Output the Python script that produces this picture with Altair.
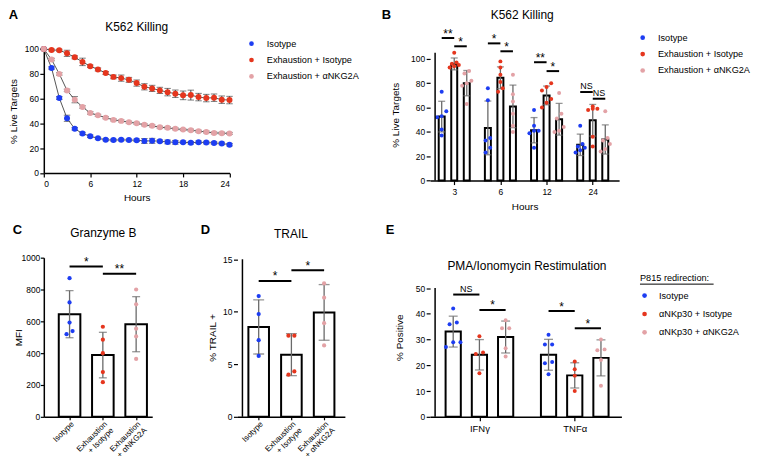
import json
import altair as alt
import pandas as pd

FONT = "Liberation Sans"

COND_AB = ["Isotype", "Exhaustion + Isotype", "Exhaustion + αNKG2A"]
COND_E = ["Isotype", "αNKp30 + Isotype", "αNKp30 + αNKG2A"]
COLORS = ["#1d3df2", "#e5361e", "#e3a2a6"]

# ---------------- Panel A (time course) ----------------
A_HOURS = list(range(25))
A_ISO = [100, 84.7, 60.5, 44.1, 35.6, 31.8, 29.6, 28.0, 26.7, 26.5, 26.7, 26.5, 26.4,
         25.8, 25.9, 25.6, 25.0, 24.7, 24.8, 24.3, 24.8, 24.5, 24.2, 23.8, 22.8]
A_EXH = [100, 99.2, 99.0, 96.5, 93.3, 89.6, 86.1, 83.5, 80.7, 77.5, 76.5, 75.1, 72.5,
         69.5, 68.2, 66.6, 65.2, 63.9, 62.6, 62.8, 61.2, 60.4, 60.7, 59.1, 58.8]
A_NKG = [100, 91.5, 79.9, 66.6, 59.1, 53.2, 48.4, 46.5, 44.6, 42.8, 42.0, 40.9, 40.1,
         38.8, 38.0, 36.9, 36.4, 35.6, 35.0, 34.5, 33.7, 33.1, 32.3, 32.1, 31.9]
A_ISO_SEM = [0.5, 1.0, 1.2, 2.5, 1.0, 1.0, 1.0, 0.8, 0.8, 0.8, 0.8, 0.8, 1.0,
             2.0, 2.0, 1.0, 1.5, 1.5, 1.0, 1.0, 1.0, 1.0, 1.0, 1.0, 1.0]
A_EXH_SEM = [0.5, 0.8, 0.8, 2.5, 1.2, 3.0, 1.0, 1.2, 1.2, 1.5, 2.5, 2.0, 2.5,
             2.5, 2.5, 2.5, 3.0, 3.0, 3.5, 4.0, 3.0, 3.0, 3.0, 3.0, 3.0]
A_NKG_SEM = [0.5, 1.0, 1.0, 1.0, 2.5, 1.0, 1.0, 0.8, 0.8, 0.8, 0.8, 0.8, 0.8,
             0.8, 0.8, 0.8, 0.8, 0.8, 0.8, 0.8, 0.8, 0.8, 0.8, 0.8, 0.8]

# ---------------- Panel B (grouped bars) ----------------
B_HOURS = ["3", "6", "12", "24"]
B_ISO_MEAN = [52.6, 43.3, 41.4, 29.4]
B_EXH_MEAN = [95.9, 84.5, 70.0, 49.6]
B_NKG_MEAN = [80.1, 61.0, 50.4, 33.8]
B_ISO_SD = [12.6, 22.1, 10.4, 8.8]
B_EXH_SD = [4.9, 9.0, 7.7, 13.0]
B_NKG_SD = [10.4, 17.5, 13.0, 12.0]
B_ISO_PTS = [[73, 57, 53, 52, 42, 37], [76, 66, 35, 33, 27, 23],
             [58, 45, 41, 41, 39, 27], [45, 30, 28, 27, 25, 23]]
B_EXH_PTS = [[105, 97, 96, 95, 94, 93], [98, 93, 87, 81, 76, 73],
             [80, 77, 74, 67, 64, 60], [61, 59, 59, 58, 36, 28]]
B_NKG_PTS = [[90, 88, 82, 80, 78, 63], [87, 71, 65, 55, 45, 40],
             [72, 55, 51, 44, 41, 40], [57, 35, 33, 30, 26, 24]]
B_SIG_Y = [[117.2, 110.4], [112.8, 106.3], [97.3, 90.0], [72.8, 67.3]]
B_SIG_LABEL = [["**", "*"], ["*", "*"], ["**", "*"], ["NS", "NS"]]

# ---------------- Panel C (Granzyme B) ----------------
CD_LABELS = ["Isotype", "Exhaustion\n+ Isotype", "Exhaustion\n+ αNKG2A"]
C_MEAN = [645, 388, 582]
C_SD = [148, 143, 173]
C_PTS = [[871, 719, 592, 539, 519], [566, 485, 400, 281, 218], [800, 707, 554, 505, 364]]
C_SIG_Y = [945, 899]
C_SIG_LABEL = ["*", "**"]

# ---------------- Panel D (TRAIL) ----------------
D_MEAN = [8.56, 5.92, 9.94]
D_SD = [2.58, 2.0, 2.65]
D_PTS = [[11.5, 9.78, 7.3, 5.8], [7.73, 7.73, 4.32, 4.01], [12.7, 11.34, 8.92, 6.8]]
D_SIG_Y = [12.94, 13.95]
D_SIG_LABEL = ["*", "*"]

# ---------------- Panel E (restimulation) ----------------
E_CYTO = ["IFNγ", "TNFα"]
E_ISO_MEAN = [33.1, 24.1]
E_EXH_MEAN = [24.1, 16.1]
E_NKG_MEAN = [31.0, 22.9]
E_ISO_SD = [6.0, 6.0]
E_EXH_SD = [5.9, 4.9]
E_NKG_SD = [6.2, 7.0]
E_ISO_PTS = [[42.1, 36.6, 36.0, 29.0, 29.0, 27.1], [31.9, 28.1, 28.1, 21.3, 20.8, 16.5]]
E_EXH_PTS = [[31.3, 25.0, 24.4, 16.9], [21.5, 18.5, 16.0, 10.0]]
E_NKG_PTS = [[37.5, 34.4, 34.4, 26.6, 23.4], [30.0, 26.2, 25.9, 22.1, 12.1]]
E_SIG_Y = [[47.5, 41.5], [41.1, 34.4]]
E_SIG_LABEL = [["NS", "*"], ["*", "*"]]

ERR = "#6a6a6a"
LEG_FS = 9.2


def jitter_offsets(vals, tol, step, maxk=3):
    order = sorted(range(len(vals)), key=lambda i: vals[i])
    clusters = []
    for i in order:
        if clusters and len(clusters[-1]) < maxk and vals[i] - vals[clusters[-1][-1]] <= tol:
            clusters[-1].append(i)
        else:
            clusters.append([i])
    offs = [0.0] * len(vals)
    for c in clusters:
        k = len(c)
        for j, i in enumerate(c):
            offs[i] = (j - (k - 1) / 2) * step
    return offs


def text_layer(text, x, y, size, weight="normal", align="center", baseline="alphabetic"):
    return alt.Chart(pd.DataFrame({"t": [text]})).mark_text(
        font=FONT, fontSize=size, fontWeight=weight, align=align, baseline=baseline, color="black"
    ).encode(text="t:N", x=alt.value(x), y=alt.value(y))


def bar_panel(width, height, xs, ys, x_axis, y_axis, bars, pts, sig, bar_size, cap, color,
              pt_size, y_rule=None, extra=()):
    X = lambda f: alt.X(f, type="quantitative", scale=xs, axis=x_axis)
    Y = lambda f: alt.Y(f, type="quantitative", scale=ys, axis=y_axis)
    bdf = pd.DataFrame(bars)
    caps = pd.DataFrame([{"pos": r["pos"], "c": r["lo"]} for r in bars] +
                        [{"pos": r["pos"], "c": r["hi"]} for r in bars])
    layers = [
        alt.Chart(bdf).mark_bar(fill="white", stroke="black", strokeWidth=2, size=bar_size)
        .encode(x=X("pos"), y=Y("mean")),
        alt.Chart(bdf).mark_rule(color=ERR, strokeWidth=1.3).encode(x=X("pos"), y=Y("lo"), y2="hi"),
        alt.Chart(caps).mark_tick(color=ERR, orient="horizontal", size=cap, thickness=1.3)
        .encode(x=X("pos"), y=Y("c")),
        alt.Chart(pd.DataFrame(pts)).mark_circle(size=pt_size, opacity=1)
        .encode(x=X("pos"), y=Y("v"), color=color),
    ]
    sdf = pd.DataFrame(sig)
    sdf["xm"] = (sdf["x1"] + sdf["x2"]) / 2
    layers.append(alt.Chart(sdf).mark_rule(color="black", strokeWidth=2)
                  .encode(x=X("x1"), x2="x2", y=Y("y")))
    layers.append(alt.Chart(sdf).transform_filter("datum.label != 'NS'")
                  .mark_text(font=FONT, fontSize=12, dy=-4.5, color="black")
                  .encode(x=X("xm"), y=Y("y"), text="label:N"))
    layers.append(alt.Chart(sdf).transform_filter("datum.label == 'NS'")
                  .mark_text(font=FONT, fontSize=9, dy=-6, color="black")
                  .encode(x=X("xm"), y=Y("y"), text="label:N"))
    if y_rule is not None:
        layers.append(alt.Chart(pd.DataFrame([y_rule])).mark_rule(color="black", strokeWidth=1.5)
                      .encode(x=X("x"), y=Y("y0"), y2="y1"))
    layers.extend(extra)
    return alt.layer(*layers).properties(width=width, height=height)


def legend(x, y, title=None, title_pad=0, row_pad=6.5, offset=10.8):
    kw = dict(orient="none", legendX=x, legendY=y, labelFont=FONT, labelFontSize=LEG_FS,
              labelColor="black", symbolType="circle", symbolSize=22, symbolStrokeWidth=0,
              rowPadding=row_pad, labelOffset=offset, padding=0, labelLimit=0)
    if title is None:
        kw["title"] = None
    else:
        kw.update(title=title, titleFont=FONT, titleFontSize=LEG_FS, titleFontWeight="normal",
                  titleColor="black", titlePadding=title_pad)
    return alt.Legend(**kw)


def y_axis(values, title, pad, domain=True, tick=4, lpad=1.5):
    return alt.Axis(values=values, title=title, domain=domain, tickSize=tick, labelPadding=lpad,
                    titlePadding=pad, titleBaseline="alphabetic", format="d")


# ================= Panel A =================
A_W, A_H = 186.7, 124.6
a_rows = []
for cond, vals, sems in zip(COND_AB, [A_ISO, A_EXH, A_NKG], [A_ISO_SEM, A_EXH_SEM, A_NKG_SEM]):
    for h, v, s in zip(A_HOURS, vals, sems):
        a_rows.append({"cond": cond, "h": h, "v": v, "lo": v - s, "hi": v + s})
a_df = pd.DataFrame(a_rows)
a_caps = pd.DataFrame([{"h": r["h"], "c": r["lo"]} for r in a_rows] + [{"h": r["h"], "c": r["hi"]} for r in a_rows])
a_xs = alt.Scale(domain=[0, 24], nice=False, zero=False)
a_ys = alt.Scale(domain=[0, 100], nice=False)
a_xax = alt.Axis(values=[0, 6, 12, 18, 24], title="Hours", tickSize=4,
                 labelPadding=3, titlePadding=4, format="d")
a_yax = y_axis([0, 20, 40, 60, 80, 100], "% Live Targets", 7.3)
AX = lambda f: alt.X(f, type="quantitative", scale=a_xs, axis=a_xax)
AY = lambda f: alt.Y(f, type="quantitative", scale=a_ys, axis=a_yax)
color_ab_a = alt.Color("cond:N", scale=alt.Scale(domain=COND_AB, range=COLORS),
                       legend=legend(204.2, -10))
panel_a = alt.layer(
    alt.Chart(a_df).mark_line(color="#555555", strokeWidth=1).encode(x=AX("h"), y=AY("v"), detail="cond:N"),
    alt.Chart(a_df).mark_rule(color="#444444", strokeWidth=1).encode(x=AX("h"), y=AY("lo"), y2="hi"),
    alt.Chart(a_caps).mark_tick(color="#444444", orient="horizontal", size=6.5, thickness=1)
    .encode(x=AX("h"), y=AY("c")),
    alt.Chart(a_df).mark_circle(size=36, opacity=1).encode(x=AX("h"), y=AY("v"), color=color_ab_a),
    text_layer("K562 Killing", 93.4, -18.4, 12),
    text_layer("A", -35.3, -39.7, 13, weight="bold", align="left", baseline="top"),
).properties(width=A_W, height=A_H)

# ================= Panel B =================
B_W, B_H = 190, 132.3
B_PX = 49.0
B_PXY = 1.223
B_X0 = -20.3 / B_PX
B_OFF = [-13.3 / B_PX, 0, 13.3 / B_PX]
b_bars, b_pts, b_sig = [], [], []
for ci, (cond, means, sds, pts) in enumerate(zip(
        COND_AB, [B_ISO_MEAN, B_EXH_MEAN, B_NKG_MEAN], [B_ISO_SD, B_EXH_SD, B_NKG_SD],
        [B_ISO_PTS, B_EXH_PTS, B_NKG_PTS])):
    for gi in range(len(B_HOURS)):
        pos = gi + B_OFF[ci]
        b_bars.append({"pos": pos, "mean": means[gi], "lo": means[gi] - sds[gi], "hi": means[gi] + sds[gi]})
        offs = jitter_offsets(pts[gi], 4.0, 0.1)
        for v, o in zip(pts[gi], offs):
            b_pts.append({"pos": pos + o, "v": v, "cond": cond})
for gi in range(len(B_HOURS)):
    for k in range(2):
        b_sig.append({"x1": gi + B_OFF[k], "x2": gi + B_OFF[k + 1], "y": B_SIG_Y[gi][k], "label": B_SIG_LABEL[gi][k]})
b_xs = alt.Scale(domain=[B_X0, B_X0 + B_W / B_PX], nice=False, zero=False)
b_ys = alt.Scale(domain=[0, B_H / B_PXY], nice=False)
b_xax = alt.Axis(values=[0, 1, 2, 3], labelExpr=json.dumps(B_HOURS) + "[datum.value]",
                 title="Hours", tickSize=4, labelPadding=3, titlePadding=6)
b_yax = y_axis([0, 20, 40, 60, 80, 100], "% Live Targets", 12.3, domain=False)
color_ab_b = alt.Color("cond:N", scale=alt.Scale(domain=COND_AB, range=COLORS),
                       legend=legend(209.1, -16))
panel_b = bar_panel(B_W, B_H, b_xs, b_ys, b_xax, b_yax, b_bars, b_pts, b_sig, 6, 7, color_ab_b, 16,
                    y_rule={"x": B_X0, "y0": 0, "y1": 105},
                    extra=[text_layer("K562 Killing", 92.6, -29.7, 12),
                           text_layer("B", -48.7, -39.7, 13, weight="bold", align="left", baseline="top")])

# ================= Panel C =================
cd_expr = json.dumps([l.split("\n") for l in CD_LABELS], ensure_ascii=False) + "[datum.value]"
ROW2_H = 160


def simple_panel(means, sds, pts_list, sig_y, sig_lab, px, x0_px, width, ymax, tol, step):
    bars, pts, sig = [], [], []
    for i in range(3):
        bars.append({"pos": i, "mean": means[i], "lo": means[i] - sds[i], "hi": means[i] + sds[i]})
        offs = jitter_offsets(pts_list[i], tol, step)
        for v, o in zip(pts_list[i], offs):
            pts.append({"pos": i + o, "v": v, "cond": COND_AB[i]})
    for k in range(2):
        sig.append({"x1": k, "x2": k + 1, "y": sig_y[k], "label": sig_lab[k]})
    xs = alt.Scale(domain=[-x0_px / px, (width - x0_px) / px], nice=False, zero=False)
    ys = alt.Scale(domain=[0, ymax], nice=False)
    return bars, pts, sig, xs, ys


cd_xax = alt.Axis(values=[0, 1, 2], labelExpr=cd_expr, labelAngle=-45, labelAlign="right",
                  labelBaseline="top", labelLineHeight=9, labelFontSize=8, labelOverlap=False,
                  title=None, tickSize=3, labelPadding=0)
color_cd = alt.Color("cond:N", scale=alt.Scale(domain=COND_AB, range=COLORS), legend=None)

C_W = 109
c_bars, c_pts, c_sig, c_xs, c_ys = simple_panel(C_MEAN, C_SD, C_PTS, C_SIG_Y, C_SIG_LABEL,
                                                36.85, 23, C_W, 1000, 30, 0.18)
c_yax = y_axis([0, 200, 400, 600, 800, 1000], "MFI", 0, tick=3.5, lpad=0.5)
panel_c = bar_panel(C_W, ROW2_H, c_xs, c_ys, cd_xax, c_yax, c_bars, c_pts, c_sig, 21.7, 8, color_cd, 18,
                    extra=[text_layer("Granzyme B", 59.9, -20.7, 12),
                           text_layer("C", -31.3, -33.4, 13, weight="bold", align="left", baseline="top")])

# ================= Panel D =================
D_W = 108
D_PXY = (ROW2_H - 1.6) / 15
d_bars, d_pts, d_sig, d_xs, d_ys = simple_panel(D_MEAN, D_SD, D_PTS, D_SIG_Y, D_SIG_LABEL,
                                                36.25, 18, D_W, ROW2_H / D_PXY, 0.46, 0.18)
d_yax = y_axis([0, 5, 10, 15], "% TRAIL +", 7.3, domain=False)
panel_d = bar_panel(D_W, ROW2_H, d_xs, d_ys, cd_xax, d_yax, d_bars, d_pts, d_sig, 20.7, 11, color_cd, 18,
                    y_rule={"x": -18 / 36.25, "y0": 0, "y1": 15},
                    extra=[text_layer("TRAIL", 53.8, -19.4, 12),
                           text_layer("D", -37, -33.4, 13, weight="bold", align="left", baseline="top")])

# ================= Panel E =================
E_W = 192.3
E_PX = 101.1
E_PXY = (ROW2_H - 30.6) / 50
E_X0 = -47 / E_PX
E_OFF = [-27.8 / E_PX, 0, 27.8 / E_PX]
e_bars, e_pts, e_sig = [], [], []
for ci, (cond, means, sds, pts) in enumerate(zip(
        COND_E, [E_ISO_MEAN, E_EXH_MEAN, E_NKG_MEAN], [E_ISO_SD, E_EXH_SD, E_NKG_SD],
        [E_ISO_PTS, E_EXH_PTS, E_NKG_PTS])):
    for gi in range(len(E_CYTO)):
        pos = gi + E_OFF[ci]
        e_bars.append({"pos": pos, "mean": means[gi], "lo": means[gi] - sds[gi], "hi": means[gi] + sds[gi]})
        offs = jitter_offsets(pts[gi], 1.9, 0.076)
        for v, o in zip(pts[gi], offs):
            e_pts.append({"pos": pos + o, "v": v, "cond": cond})
for gi in range(len(E_CYTO)):
    for k in range(2):
        e_sig.append({"x1": gi + E_OFF[k], "x2": gi + E_OFF[k + 1], "y": E_SIG_Y[gi][k], "label": E_SIG_LABEL[gi][k]})
e_xs = alt.Scale(domain=[E_X0, E_X0 + E_W / E_PX], nice=False, zero=False)
e_ys = alt.Scale(domain=[0, ROW2_H / E_PXY], nice=False)
e_xax = alt.Axis(values=[0, 1], labelExpr=json.dumps(E_CYTO, ensure_ascii=False) + "[datum.value]",
                 title=None, tickSize=4, labelPadding=3, labelFontSize=9.5)
e_yax = y_axis([0, 10, 20, 30, 40, 50], "% Positive", 12.7, domain=False)
color_e = alt.Color("cond:N", scale=alt.Scale(domain=COND_E, range=COLORS),
                    legend=legend(211, 16.3, title="P815 redirection:", title_pad=8, row_pad=8.5, offset=9.9))
underline = alt.Chart(pd.DataFrame({"u": [0]})).mark_rule(color="black", strokeWidth=1).encode(
    x=alt.value(211), x2=alt.value(285), y=alt.value(26.6))
panel_e = bar_panel(E_W, ROW2_H, e_xs, e_ys, e_xax, e_yax, e_bars, e_pts, e_sig, 15.3, 9, color_e, 16,
                    y_rule={"x": E_X0, "y0": 0, "y1": 50},
                    extra=[underline,
                           text_layer("PMA/Ionomycin Restimulation", 97.3, 12.3, 12),
                           text_layer("E", -44.7, -33.4, 13, weight="bold", align="left", baseline="top")])

row1 = alt.hconcat(panel_a, panel_b, spacing=201.4, bounds="flush").resolve_scale(
    color="independent").resolve_legend(color="independent")
row2 = alt.hconcat(panel_c, panel_d, panel_e, spacing=85.7, bounds="flush").resolve_scale(
    color="independent").resolve_legend(color="independent")

ZERO_PAD = {"left": 0, "right": 0, "top": 0, "bottom": 0}
chart = alt.vconcat(row1, row2, spacing=11.8).resolve_scale(
    color="independent").resolve_legend(color="independent").properties(
    padding=ZERO_PAD, autosize=alt.AutoSizeParams(type="pad")
).configure(padding=ZERO_PAD).configure_view(stroke=None).configure_axis(
    labelFont=FONT, titleFont=FONT, labelFontSize=8.5, titleFontSize=10, labelColor="black",
    titleColor="black", domainColor="black", tickColor="black", domainWidth=1.5, tickWidth=1.2,
    grid=False, titleFontWeight="normal"
)

chart.save("out.html", embed_options={"renderer": "svg", "actions": False})
